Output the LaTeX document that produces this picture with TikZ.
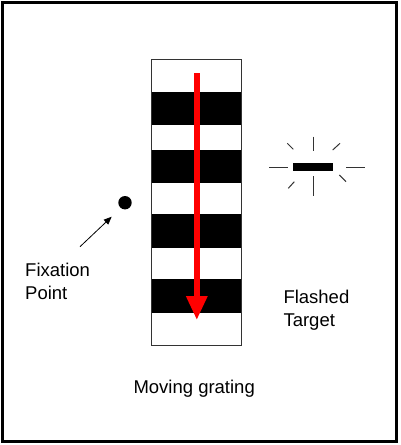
\documentclass[tikz,border=0pt]{standalone}
\usepackage{fontspec}
\setmainfont{Liberation Sans}
\usetikzlibrary{arrows.meta}
\begin{document}
\begin{tikzpicture}[x=1pt,y=-1pt,
  lbl/.style={inner sep=0pt, align=left, font=\fontsize{18.5}{22.7}\selectfont},
  ray/.style={line width=1pt, black!80},
  band/.style={fill=black},
]
\useasboundingbox (0,0) rectangle (400,445);
% frame
\draw[line width=3pt] (2,2) rectangle (396.8,441.8);
% grating
\foreach \a/\b in {91.7/125, 150/183.3, 214.3/248.3, 279.3/313.3} {
  \fill[band] (151.7,\a) rectangle (241.7,\b);
}
\draw[line width=1pt, black!80] (151.7,59.3) rectangle (241.7,345);
% red arrow
\fill[red] (193.8,72.7) rectangle (199.8,297);
\fill[red] (185.8,296) -- (207.8,296) -- (196.8,319.3) -- cycle;
% fixation point
\node[circle, fill=black, minimum size=13.4pt, inner sep=0pt] (fix) at (125,202.7) {};
\coordinate (fa) at (80,246.7);
\coordinate (fb) at (111.7,216.7);
\draw[line width=0.8pt, -{Triangle[length=8pt,width=6.5pt]}] (fa) -- (fb);
\node[lbl, anchor=base west] (fixlbl) at (25,299.3) {Fixation\\Point};
% flashed target
\fill[black] (293.3,163.3) rectangle (333.3,170.7);
\draw[ray] (269.3,167) -- (288.3,167);
\draw[ray] (346,167) -- (365,167);
\draw[ray] (313.3,136.7) -- (313.3,150.7);
\draw[ray] (313.3,176) -- (313.3,196);
\draw[ray] (287.3,143.3) -- (293.3,149.3);
\draw[ray] (332.7,150) -- (340,143.3);
\draw[ray] (288.3,188.3) -- (294.3,181.7);
\draw[ray] (339.3,175) -- (346,181.7);
\node[lbl, anchor=base west] (tgt) at (283.3,326) {Flashed\\Target};
% caption
\node[lbl, anchor=base west] (cap) at (133.3,393.3) {Moving grating};
\end{tikzpicture}
\end{document}
